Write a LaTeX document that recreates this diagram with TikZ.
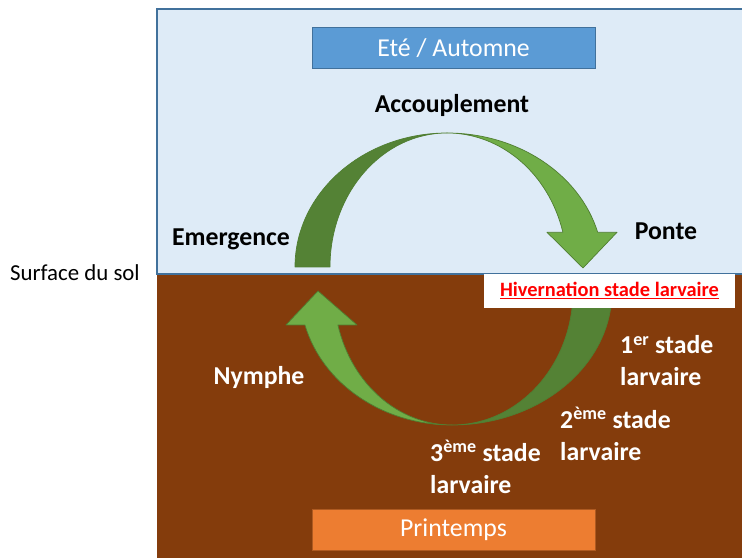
\documentclass[tikz,border=0pt]{standalone}
\usepackage{fontspec}
\setmainfont{Carlito}
\usetikzlibrary{positioning}

\definecolor{skyfill}{HTML}{DEEBF7}
\definecolor{skyline}{HTML}{41719C}
\definecolor{boxblue}{HTML}{5B9BD5}
\definecolor{soil}{HTML}{843C0C}
\definecolor{boxorange}{HTML}{ED7D31}
\definecolor{orangeline}{HTML}{AE5A21}
\definecolor{leafdark}{HTML}{548235}
\definecolor{leaflight}{HTML}{70AD47}
\definecolor{leafline}{HTML}{507E32}

\newcommand\stagefont{\fontsize{22}{27.3}\selectfont}

\begin{document}
\begin{tikzpicture}[x=0.03cm,y=0.03cm]
  \tikzstyle{season} = [minimum width=8.49cm,minimum height=1.25cm,inner sep=0,
    text=white,font=\stagefont]
  \tikzstyle{stage} = [inner sep=0,font=\stagefont\bfseries,align=left]
  \tikzstyle{leaf} = [draw=leafline,line width=0.6pt,line join=round]
  \useasboundingbox (0,0) rectangle (742,558);
  % sky and soil
  \fill[soil] (157,0) rectangle (742,284);
  \draw[skyline,fill=skyfill,line width=1.2pt] (742,284) -- (157,284) -- (157,549) -- (742,549);
  % upper arrow
  \filldraw[leaf,fill=leafdark] (295,291) arc[start angle=180,end angle=90,x radius=152,y radius=134]
    arc[start angle=90,end angle=180,x radius=117,y radius=134] -- cycle;
  \filldraw[leaf,fill=leaflight] (447,425) arc[start angle=90,end angle=15,x radius=156,y radius=134]
    -- (617,325.7) -- (583,290) -- (547,325.7) -- (562.9,325.7)
    arc[start angle=15,end angle=90,x radius=120,y radius=134] -- cycle;
  % lower arrow
  \filldraw[leaf,fill=leafdark] (612,267) arc[start angle=0,end angle=-90,x radius=160,y radius=134]
    arc[start angle=-90,end angle=0,x radius=121,y radius=134] -- cycle;
  \filldraw[leaf,fill=leaflight] (452,133) arc[start angle=270,end angle=194.7,x radius=152,y radius=134]
    -- (286,233) -- (318,267) -- (357,233) -- (337.9,233)
    arc[start angle=194.7,end angle=270,x radius=118,y radius=134] -- cycle;
  % seasons
  \node (summer) [season,fill=boxblue,draw=skyline,line width=0.8pt] at (453.5,510) {Eté / Automne};
  \node (spring) [season,fill=boxorange,draw=orangeline,line width=0.8pt] at (453.5,28) {Printemps};
  \node (winter) [fill=white,minimum width=7.53cm,minimum height=1.02cm,inner sep=0,
    text=red,font=\fontsize{17.4}{20}\selectfont\bfseries] at (609.5,267) {\underline{Hivernation stade larvaire}};
  \node (soilline) [inner sep=0,font=\fontsize{19.5}{23}\selectfont] at (75,285) {Surface du sol};
  % stages
  \node (mating) [stage] at (452,453) {Accouplement};
  \node (emerge) [stage] at (231,319) {Emergence};
  \node (laying) [stage] at (666,327) {Ponte};
  \node (nymph) [stage,text=white] at (259,181) {Nymphe};
  \node (larva1) [stage,text=white,anchor=west] at (620,197) {1\textsuperscript{er} stade\\larvaire};
  \node (larva2) [stage,text=white,anchor=west] at (560,124.5) {2\textsuperscript{ème} stade\\larvaire};
  \node (larva3) [stage,text=white,anchor=west] at (430,91.5) {3\textsuperscript{ème} stade\\larvaire};
\end{tikzpicture}
\end{document}
